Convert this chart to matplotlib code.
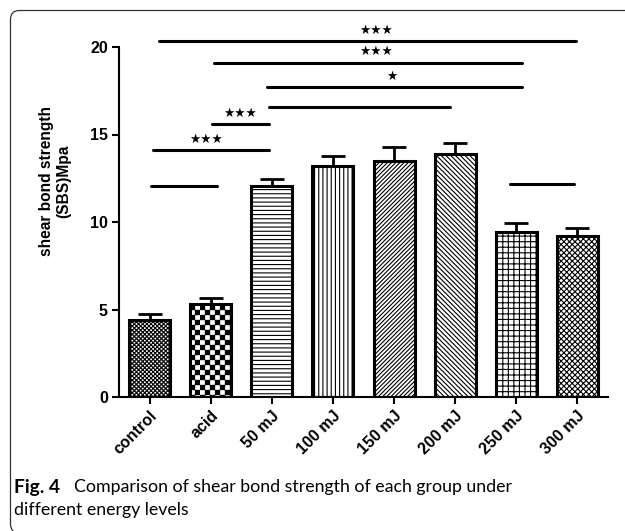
import numpy as np
import matplotlib
matplotlib.use('Agg')
import matplotlib.pyplot as plt
import matplotlib.hatch as mhatch
from matplotlib.path import Path
from matplotlib.patches import FancyBboxPatch
from matplotlib.transforms import IdentityTransform

# ---------------- data ----------------
categories = ['control', 'acid', '50 mJ', '100 mJ', '150 mJ', '200 mJ', '250 mJ', '300 mJ']
means = [4.4, 5.3, 12.05, 13.2, 13.5, 13.9, 9.43, 9.2]
errors = [0.35, 0.35, 0.4, 0.6, 0.8, 0.6, 0.5, 0.45]
hatches = ['o' * 24, 'o' * 10, '----', '||||', '////////', '\\' * 7, '+++', 'x' * 6]

sig_x0 = [0.16, 1.05, 1.92, 1.95, 1.02, 0.05, 0.02, 5.9]
sig_x1 = [6.97, 6.10, 6.10, 4.92, 1.95, 1.95, 1.10, 6.95]
sig_y = [20.34, 19.10, 17.70, 16.60, 15.60, 14.10, 12.06, 12.17]
sig_label = ['★★★', '★★★', '★', '', '★★★', '★★★', '', '']
sig_label_x = [3.70, 3.70, 3.97, None, 1.48, 0.93, None, None]

yticks = [0, 5, 10, 15, 20]
ylabel = 'shear bond strength\n(SBS)Mpa'
caption_bold = 'Fig. 4'
caption_line1 = 'Comparison of shear bond strength of each group under'
caption_line2 = 'different energy levels'


# ------------- custom checkerboard hatch (replaces small circles 'o') -------------
class Checker(mhatch.HatchPatternBase):
    def __init__(self, hatch, density):
        n = hatch.count('o') * 2
        if n % 2:
            n += 1
        self.n = n
        self.num_vertices = (n * n // 2) * 5 if n else 0

    def set_vertices_and_codes(self, vertices, codes):
        n = self.n
        s = 1.0 / n
        ins = 0.004
        sq = np.array([[ins, ins], [s - ins, ins], [s - ins, s - ins], [ins, s - ins], [ins, ins]])
        k = 0
        cc = [Path.MOVETO, Path.LINETO, Path.LINETO, Path.LINETO, Path.CLOSEPOLY]
        for i in range(n):
            for j in range(n):
                if (i + j) % 2 == 0:
                    vertices[k:k + 5] = sq + [i * s, j * s]
                    codes[k:k + 5] = cc
                    k += 5


mhatch._hatch_types = [Checker if t is mhatch.SmallCircles else t for t in mhatch._hatch_types]

plt.rcParams['hatch.linewidth'] = 0.8
plt.rcParams['font.family'] = ['Liberation Sans', 'DejaVu Sans']

W, H = 625, 531
fig = plt.figure(figsize=(W / 100, H / 100), dpi=100)
ax = fig.add_axes([119 / W, (H - 397) / H, (608 - 119) / W, (397 - 47) / H])

x = np.arange(len(categories))
bars = ax.bar(x, means, width=0.67, color='white', edgecolor='black', linewidth=2.2, zorder=2)
for b, h in zip(bars, hatches):
    b.set_hatch(h)
ax.errorbar(x, means, yerr=[np.zeros(len(means)), errors], fmt='none', ecolor='black',
            elinewidth=2.0, capsize=8.3, capthick=2.0, zorder=1)

ax.set_xlim(-0.5, 7.5)
ax.set_ylim(0, 20)
ax.set_yticks(yticks)
ax.set_yticklabels([str(v) for v in yticks], fontsize=11.5, fontweight='bold')
ax.set_xticks(x)
ax.set_xticklabels(categories, fontsize=11.5, fontweight='bold', rotation=45,
                   ha='right', va='top', rotation_mode='anchor')
for s in ['top', 'right']:
    ax.spines[s].set_visible(False)
for s in ['left', 'bottom']:
    ax.spines[s].set_linewidth(1.5)
ax.tick_params(axis='both', direction='out', length=5, width=1.5, pad=3)
ax.set_ylabel(ylabel, fontsize=11.2, fontweight='bold', linespacing=1.2)
ax.yaxis.set_label_coords(-0.098, 0.617)

# significance lines
for x0, x1, yy, lab, lx in zip(sig_x0, sig_x1, sig_y, sig_label, sig_label_x):
    ax.plot([x0, x1], [yy, yy], color='black', lw=2.2, solid_capstyle='round', clip_on=False, zorder=3)
    if lab:
        ax.text(lx, yy + 0.62, lab, fontsize=9, ha='center', va='center',
                family='DejaVu Sans', clip_on=False)

# caption
cap_font = ['Lato', 'DejaVu Sans']
t0 = fig.text(14 / W, 1 - 487 / H, caption_bold, fontsize=12, fontweight='bold',
              family=cap_font, ha='left', va='center')
t1 = fig.text(74 / W, 1 - 487 / H, caption_line1, fontsize=12,
              family=cap_font, ha='left', va='center')
t2 = fig.text(14 / W, 1 - 510 / H, caption_line2, fontsize=12,
              family=cap_font, ha='left', va='center')
fig.canvas.draw()
r = fig.canvas.get_renderer()
w1 = t1.get_window_extent(r).width
fs = 12 * 435 / w1
t1.set_fontsize(fs)
t2.set_fontsize(fs)
t0.set_fontsize(fs * 1.08)

# border
border = FancyBboxPatch((10.5, H - 533), 700, 533 - 10.5,
                        boxstyle='round,pad=0,rounding_size=9',
                        transform=IdentityTransform(), facecolor='none',
                        edgecolor='#333333', linewidth=0.9)
fig.patches.append(border)

fig.savefig('out.png', dpi=100)
